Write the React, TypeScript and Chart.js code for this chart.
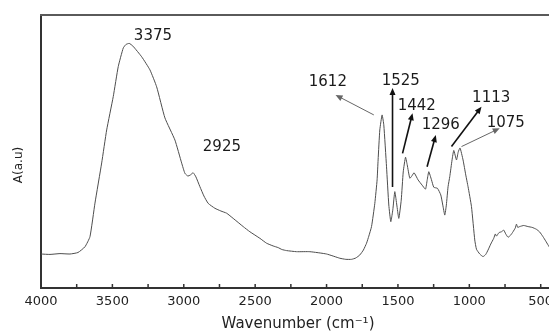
import React, { useEffect, useRef } from 'react';
import { Chart, registerables } from 'chart.js';

Chart.register(...registerables);

// FTIR spectrum (wavenumber in cm-1, absorbance in arbitrary units)
const wavenumbers = [
  4000, 3937, 3867, 3797, 3741, 3692, 3657, 3622, 3575, 3540, 3494, 3459, 3424, 3405, 3382, 3356,
  3295, 3237, 3190, 3132, 3062, 3015, 2992, 2971, 2954, 2934, 2915, 2887, 2859, 2829, 2782, 2740,
  2700, 2654, 2584, 2537, 2467, 2420, 2374, 2339, 2313, 2280, 2210, 2117, 2000, 1907, 1865, 1825,
  1795, 1767, 1742, 1720, 1704, 1685, 1662, 1646, 1639, 1627, 1611, 1599, 1580, 1564, 1550, 1536,
  1522, 1508, 1494, 1477, 1463, 1447, 1435, 1417, 1403, 1387, 1359, 1331, 1307, 1295, 1284, 1265,
  1249, 1223, 1200, 1186, 1172, 1161, 1149, 1137, 1121, 1109, 1090, 1078, 1065, 1044, 1025, 1009,
  985, 962, 950, 927, 904, 885, 869, 850, 829, 818, 810, 792, 775, 759, 745, 729,
  710, 694, 678, 670, 661, 647, 619, 589, 560, 530, 507, 484, 465, 449, 430, 402,
];
const absorbance = [
  12.45, 12.3, 12.6, 12.45, 13.0, 15.1, 18.8, 31.1, 45.8, 57.9, 70.1, 81.1, 87.9, 89.2, 89.6, 88.6,
  84.7, 79.9, 73.7, 62.3, 54.2, 45.8, 42.0, 41.0, 41.4, 42.2, 40.7, 37.1, 33.7, 31.0, 29.2, 28.2,
  27.4, 25.5, 22.5, 20.6, 18.2, 16.4, 15.4, 14.8, 14.1, 13.7, 13.3, 13.3, 12.45, 10.9, 10.5, 10.5,
  11.0, 12.1, 13.9, 16.4, 19.0, 22.5, 31.0, 39.6, 46.9, 57.9, 63.4, 59.7, 44.4, 30.4, 24.3, 28.6,
  35.3, 30.4, 25.5, 32.2, 42.5, 47.9, 45.1, 40.2, 41.0, 42.2, 39.6, 37.7, 36.2, 39.6, 42.6, 39.6,
  36.9, 36.5, 34.1, 30.4, 26.7, 30.4, 37.1, 40.8, 46.9, 50.4, 46.9, 49.8, 51.3, 46.9, 41.4, 37.1,
  29.8, 17.6, 14.2, 12.45, 11.5, 12.3, 13.9, 16.1, 18.2, 19.8, 19.0, 20.3, 20.6, 21.2, 19.8, 18.6,
  19.4, 20.6, 22.0, 23.4, 22.2, 22.5, 22.9, 22.5, 22.2, 21.5, 20.5, 18.8, 17.2, 15.8, 14.3, 13.2,
];

const xMajorTicks = [4000, 3500, 3000, 2500, 2000, 1500, 1000, 500];
const xMinorTicks = [3750, 3250, 2750, 2250, 1750, 1250, 750];

// peak annotations (label centre in data units)
const peakNames = ['3375', '2925', '1612', '1525', '1442', '1296', '1113', '1075'];
const peakLabelWn = [3216, 2733, 1991, 1480, 1368, 1200, 847, 745];
const peakLabelAbs = [92.3, 51.6, 75.5, 75.8, 66.7, 59.7, 69.6, 60.4];

// arrows (tail -> head, in data units)
const arrowPeaks = ['1612', '1525', '1442', '1296', '1113', '1075'];
const arrowFromWn = [1669, 1538, 1468, 1296, 1125, 1055];
const arrowFromAbs = [63.4, 37.0, 49.3, 44.4, 51.8, 51.8];
const arrowToWn = [1937, 1538, 1398, 1235, 915, 787];
const arrowToAbs = [70.7, 73.3, 64.0, 56.0, 66.4, 58.5];
const thinArrows = ['1612', '1075'];

const FONT = '"DejaVu Sans", Verdana, sans-serif';

const overlayPlugin = {
  id: 'overlay',
  afterDraw(chart: any) {
    const { ctx, chartArea: a, scales } = chart;
    const x = scales.x;
    const y = scales.y;
    ctx.save();

    // top frame line
    ctx.strokeStyle = '#5a5a5a';
    ctx.lineWidth = 2;
    ctx.beginPath();
    ctx.moveTo(a.left - 1, a.top);
    ctx.lineTo(a.right, a.top);
    ctx.stroke();

    // inward tick marks on the bottom axis
    ctx.strokeStyle = '#333';
    ctx.lineWidth = 1.5;
    ctx.beginPath();
    [...xMajorTicks, ...xMinorTicks].forEach((v) => {
      const px = x.getPixelForValue(v);
      ctx.moveTo(px, a.bottom);
      ctx.lineTo(px, a.bottom - 4);
    });
    ctx.stroke();

    // y axis title
    ctx.fillStyle = '#222';
    ctx.font = `12px ${FONT}`;
    ctx.textAlign = 'center';
    ctx.textBaseline = 'middle';
    ctx.save();
    ctx.translate(a.left - 22, a.bottom - 123);
    ctx.rotate(-Math.PI / 2);
    ctx.fillText('A(a.u)', 0, 0);
    ctx.restore();

    // peak labels
    ctx.font = `15px ${FONT}`;
    ctx.fillStyle = '#1a1a1a';
    peakNames.forEach((name, i) => {
      ctx.fillText(name, x.getPixelForValue(peakLabelWn[i]), y.getPixelForValue(peakLabelAbs[i]));
    });

    // arrows
    arrowPeaks.forEach((name, i) => {
      const thin = thinArrows.includes(name);
      const x0 = x.getPixelForValue(arrowFromWn[i]);
      const y0 = y.getPixelForValue(arrowFromAbs[i]);
      const x1 = x.getPixelForValue(arrowToWn[i]);
      const y1 = y.getPixelForValue(arrowToAbs[i]);
      const ang = Math.atan2(y1 - y0, x1 - x0);
      const head = 7;
      const hw = 3;
      const color = thin ? '#666' : '#111';
      ctx.strokeStyle = color;
      ctx.fillStyle = color;
      ctx.lineWidth = thin ? 1 : 1.6;
      ctx.beginPath();
      ctx.moveTo(x0, y0);
      ctx.lineTo(x1 - Math.cos(ang) * head * 0.8, y1 - Math.sin(ang) * head * 0.8);
      ctx.stroke();
      ctx.beginPath();
      ctx.moveTo(x1, y1);
      ctx.lineTo(
        x1 - Math.cos(ang) * head - Math.sin(ang) * hw,
        y1 - Math.sin(ang) * head + Math.cos(ang) * hw
      );
      ctx.lineTo(
        x1 - Math.cos(ang) * head + Math.sin(ang) * hw,
        y1 - Math.sin(ang) * head - Math.cos(ang) * hw
      );
      ctx.closePath();
      ctx.fill();
    });

    ctx.restore();
  },
};

export default function App() {
  const canvasRef = useRef<HTMLCanvasElement | null>(null);

  useEffect(() => {
    const canvas = canvasRef.current;
    if (!canvas) return;
    const data = wavenumbers.map((w, i) => ({ x: w, y: absorbance[i] }));
    const chart = new Chart(canvas, {
      type: 'line',
      data: {
        datasets: [
          {
            data,
            borderColor: '#4d4d4d',
            borderWidth: 1,
            pointRadius: 0,
            tension: 0.15,
            fill: false,
          },
        ],
      },
      options: {
        animation: false,
        responsive: false,
        maintainAspectRatio: false,
        layout: { padding: { left: 0, top: 15, right: 45, bottom: 0 } },
        plugins: { legend: { display: false }, tooltip: { enabled: false } },
        scales: {
          x: {
            type: 'linear',
            reverse: true,
            min: 400,
            max: 4000,
            afterBuildTicks: (scale: any) => {
              scale.ticks = xMajorTicks.map((v) => ({ value: v }));
            },
            afterFit: (scale: any) => {
              scale.height = 43;
            },
            grid: { display: false, drawTicks: false },
            border: { display: true, color: '#333', width: 2 },
            ticks: {
              autoSkip: false,
              maxRotation: 0,
              padding: 6,
              color: '#222',
              font: { family: FONT, size: 13 },
              callback: (v: any) => String(v),
            },
            title: {
              display: true,
              text: 'Wavenumber (cm⁻¹)',
              color: '#222',
              font: { family: FONT, size: 15, lineHeight: '14px' },
              padding: 0,
            },
          },
          y: {
            type: 'linear',
            min: 0,
            max: 100,
            afterFit: (scale: any) => {
              scale.width = 41;
            },
            grid: { display: false, drawTicks: false },
            border: { display: true, color: '#333', width: 2 },
            ticks: { display: false },
          },
        },
      },
      plugins: [overlayPlugin],
    });
    return () => chart.destroy();
  }, []);

  return (
    <div
      style={{
        position: 'absolute',
        left: 0,
        top: 0,
        width: 549,
        height: 331,
        overflow: 'hidden',
        background: '#fff',
      }}
    >
      <canvas ref={canvasRef} width={600} height={331} style={{ display: 'block' }} />
    </div>
  );
}
